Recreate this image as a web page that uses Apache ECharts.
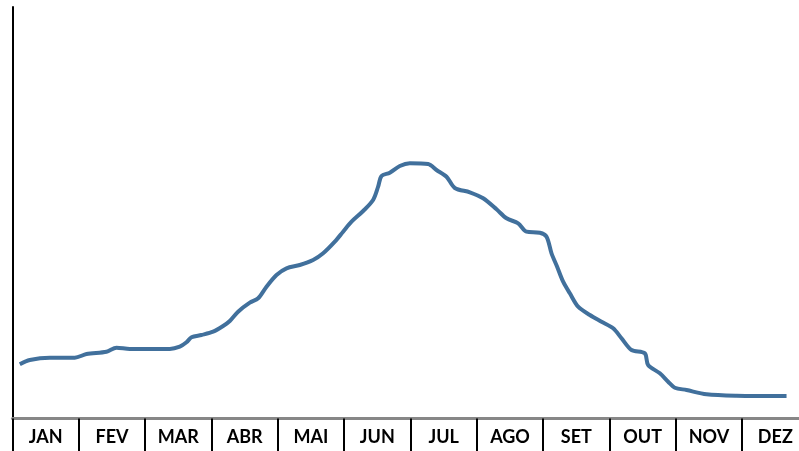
<!DOCTYPE html>
<html>
<head>
<meta charset="utf-8">
<script src="https://cdn.jsdelivr.net/npm/echarts@6/dist/echarts.min.js"></script>
<style>html,body{margin:0;padding:0;background:#fff}#c{width:799px;height:451px}</style>
</head>
<body>
<div id="c"></div>
<script>
const months = ['JAN','FEV','MAR','ABR','MAI','JUN','JUL','AGO','SET','OUT','NOV','DEZ'];
// position along the year in months (0 = start of JAN, 12 = end of DEZ)
const t = [0.110,0.261,0.562,0.939,1.116,1.417,1.568,1.768,2.371,2.522,2.623,2.699,2.849,3.024,3.175,3.276,3.401,3.578,3.703,3.829,3.980,4.131,4.331,4.532,4.683,4.859,4.984,5.111,5.286,5.436,5.512,5.563,5.688,5.839,5.990,6.266,6.392,6.543,6.668,6.895,7.095,7.297,7.448,7.623,7.749,7.950,8.051,8.126,8.206,8.301,8.402,8.527,8.704,8.880,9.055,9.181,9.332,9.532,9.582,9.759,9.884,9.985,10.161,10.463,10.915,11.669];
const v = [54.2,58.5,60.8,60.8,64.5,66.8,70.8,69.5,69.5,71.8,76.2,81.2,83.5,86.8,92.5,97.5,106.8,115.8,120.2,131.8,143.5,150.2,153.5,158.5,165.2,176.8,186.8,196.8,207.5,218.5,231.8,242.5,245.8,252.5,255.2,254.5,248.5,241.8,230.5,226.2,220.2,209.2,200.2,195.2,186.8,185.8,181.8,165.2,152.5,136.8,125.2,111.8,103.5,96.8,90.2,80.2,68.5,65.2,53.5,45.2,36.8,30.8,28.5,24.2,22.8,22.5];
const pts = t.map((x,i)=>[x, v[i]]);
const chart = echarts.init(document.getElementById('c'), null, {renderer:'canvas'});
chart.setOption({
  animation:false,
  grid:{left:12.5, width:796, top:7, height:411.5, containLabel:false, outerBoundsMode:'none'},
  xAxis:[
    {type:'category', data:months, boundaryGap:true,
     axisLine:{show:true, lineStyle:{color:'#878787', width:3}},
     axisTick:{show:true, length:33, lineStyle:{color:'#000', width:2}},
     axisLabel:{color:'#000', fontFamily:'Lato', fontWeight:'bold', fontSize:18, margin:10},
     splitLine:{show:false}},
    {type:'value', min:0, max:12, show:false}
  ],
  yAxis:{type:'value', min:0, max:411.5, splitLine:{show:false},
     axisLine:{show:true, lineStyle:{color:'#000', width:2}},
     axisTick:{show:false}, axisLabel:{show:false}},
  series:[{type:'line', xAxisIndex:1, data:pts, smooth:0.3, showSymbol:false,
     lineStyle:{color:'#41709c', width:4}}]
});
</script>
</body>
</html>
